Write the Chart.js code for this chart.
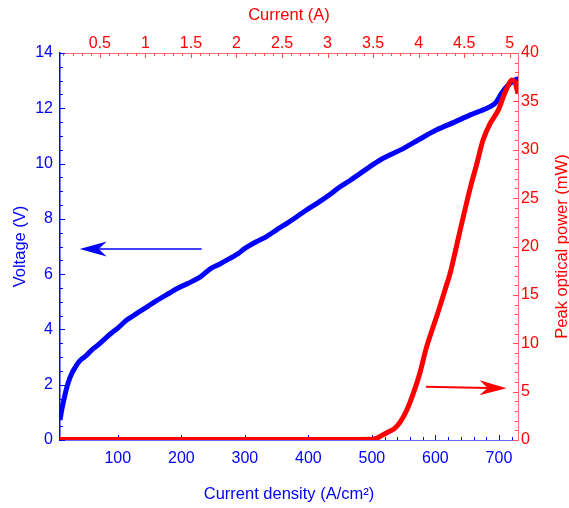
<!DOCTYPE html>
<html>
<head>
<meta charset="utf-8">
<script src="https://cdn.jsdelivr.net/npm/chart.js@4.4.1/dist/chart.umd.min.js"></script>
<style>
  html, body { margin: 0; padding: 0; background: #fff; }
  #wrap { width: 569px; height: 508px; }
</style>
</head>
<body>
<div id="wrap"><canvas id="ivChart" width="569" height="508"></canvas></div>
<script>
// current density range (A/cm^2) and device area factor for the top axis
const jMin = 9, jMax = 730;
const areaCm2 = 5 / 717;

// L-I-V sweep
const vDensity = [9, 12, 14, 18, 22, 27, 32, 40, 51, 60, 69, 80, 90, 100, 114, 130, 145, 158, 180, 195, 211, 230, 246, 260, 275, 290, 300, 318, 334, 350, 365, 380, 397, 420, 435, 450, 465, 480, 497, 513, 530, 550, 575, 602, 630, 655, 681, 694, 704, 712, 723, 731];
const voltage  = [0.72, 1.12, 1.33, 1.75, 2.08, 2.38, 2.59, 2.86, 3.07, 3.28, 3.44, 3.67, 3.87, 4.05, 4.34, 4.58, 4.8, 5.0, 5.3, 5.5, 5.67, 5.9, 6.2, 6.36, 6.55, 6.75, 6.93, 7.17, 7.36, 7.6, 7.82, 8.05, 8.32, 8.66, 8.9, 9.16, 9.38, 9.62, 9.89, 10.13, 10.33, 10.55, 10.88, 11.22, 11.5, 11.76, 12.0, 12.18, 12.54, 12.78, 13.0, 13.08];

const pDensity = [9, 100, 200, 300, 400, 500, 508, 515, 525, 535, 545, 555, 565, 575, 586, 597, 607, 615, 623, 631, 639, 649, 657, 665, 675, 686, 699, 707, 715, 720, 725, 730];
const power    = [0.05, 0.05, 0.05, 0.05, 0.05, 0.08, 0.2, 0.45, 0.8, 1.15, 1.9, 3.1, 4.8, 6.8, 9.6, 11.8, 13.8, 15.5, 17.2, 19.4, 21.7, 24.5, 26.6, 28.5, 31.0, 32.7, 34.1, 35.5, 36.7, 37.2, 37.0, 35.8];

// tick labels
const densityTicks = [100, 200, 300, 400, 500, 600, 700];
const currentTicks = [0.5, 1, 1.5, 2, 2.5, 3, 3.5, 4, 4.5, 5];
const voltageTicks = [0, 2, 4, 6, 8, 10, 12, 14];
const powerTicks   = [0, 5, 10, 15, 20, 25, 30, 35, 40];

// annotation arrows [x, y] in data units
const voltArrow  = { from: [232, 6.91], to: [40, 6.91] };
const powerArrow = { from: [585, 5.51], to: [712, 5.34] };

const BLUE = '#0000ff';
const RED = '#ff0000';
const FONT = 'Arial, "Liberation Sans", sans-serif';

const toXY = (xs, ys) => xs.map((x, i) => ({ x: x, y: ys[i] }));
const fixTicks = list => scale => { scale.ticks = list.map(v => ({ value: v })); };
const plain = v => String(v);

// small ticks drawn inward from each axis line
const inwardTicks = {
  id: 'inwardTicks',
  beforeDatasetsDraw(chart) {
    const { ctx, chartArea: a, scales } = chart;
    const sets = [
      { id: 'x',  side: 'bottom', major: 100, minor: 20,  color: BLUE },
      { id: 'x2', side: 'top',    major: 0.5, minor: 0.1, color: '#ff5050' },
      { id: 'y',  side: 'left',   major: 2,   minor: 0.5, color: BLUE },
      { id: 'y2', side: 'right',  major: 5,   minor: 1,   color: '#ff5050' }
    ];
    ctx.save();
    ctx.lineWidth = 1;
    sets.forEach(s => {
      const sc = scales[s.id];
      const n0 = Math.ceil(sc.min / s.minor - 1e-6), n1 = Math.floor(sc.max / s.minor + 1e-6);
      ctx.strokeStyle = s.color;
      for (let n = n0; n <= n1; n++) {
        const v = n * s.minor;
        const isMajor = Math.abs(v / s.major - Math.round(v / s.major)) < 1e-6;
        const len = isMajor ? 5 : 3;
        const p = Math.round(sc.getPixelForValue(v)) + 0.5;
        ctx.beginPath();
        if (s.side === 'bottom') { ctx.moveTo(p, a.bottom); ctx.lineTo(p, a.bottom - len); }
        if (s.side === 'top')    { ctx.moveTo(p, a.top);    ctx.lineTo(p, a.top + len); }
        if (s.side === 'left')   { ctx.moveTo(a.left, p);   ctx.lineTo(a.left + len, p); }
        if (s.side === 'right')  { ctx.moveTo(a.right, p);  ctx.lineTo(a.right - len, p); }
        ctx.stroke();
      }
    });
    ctx.restore();
  }
};

// arrows pointing to each curve's axis, plus the right-hand axis title
const annotations = {
  id: 'annotations',
  afterDatasetsDraw(chart) {
    const { ctx, chartArea: a, scales } = chart;
    function arrow(spec, ys, color, width) {
      const x0 = scales.x.getPixelForValue(spec.from[0]), y0 = scales[ys].getPixelForValue(spec.from[1]);
      const x1 = scales.x.getPixelForValue(spec.to[0]),   y1 = scales[ys].getPixelForValue(spec.to[1]);
      const ang = Math.atan2(y1 - y0, x1 - x0);
      const headLen = 27, half = 7.5, notch = 19;
      ctx.save();
      ctx.strokeStyle = color;
      ctx.fillStyle = color;
      ctx.lineWidth = width;
      ctx.beginPath();
      ctx.moveTo(x0, y0);
      ctx.lineTo(x1 - Math.cos(ang) * notch, y1 - Math.sin(ang) * notch);
      ctx.stroke();
      ctx.translate(x1, y1);
      ctx.rotate(ang);
      ctx.beginPath();
      ctx.moveTo(0, 0);
      ctx.lineTo(-headLen, -half);
      ctx.lineTo(-notch, 0);
      ctx.lineTo(-headLen, half);
      ctx.closePath();
      ctx.fill();
      ctx.restore();
    }
    arrow(voltArrow, 'y', BLUE, 1.6);
    arrow(powerArrow, 'y2', RED, 2);

    ctx.save();
    ctx.fillStyle = RED;
    ctx.font = '16.5px ' + FONT;
    ctx.textAlign = 'center';
    ctx.textBaseline = 'middle';
    ctx.translate(562, (a.top + a.bottom) / 2);
    ctx.rotate(-Math.PI / 2);
    ctx.fillText('Peak optical power (mW)', 0, 0);
    ctx.restore();
  }
};

Chart.defaults.font.family = FONT;
Chart.defaults.font.size = 16;
const titleFont = { size: 16.5 };

new Chart(document.getElementById('ivChart'), {
  type: 'line',
  data: {
    datasets: [
      {
        label: 'Peak optical power',
        data: toXY(pDensity, power),
        xAxisID: 'x', yAxisID: 'y2',
        borderColor: RED, borderWidth: 5,
        pointRadius: 0, tension: 0.3, order: 0
      },
      {
        label: 'Voltage',
        data: toXY(vDensity, voltage),
        xAxisID: 'x', yAxisID: 'y',
        borderColor: BLUE, borderWidth: 5,
        pointRadius: 0, tension: 0.3, order: 1
      }
    ]
  },
  options: {
    responsive: false,
    animation: false,
    events: [],
    layout: { padding: 0 },
    plugins: { legend: { display: false }, tooltip: { enabled: false } },
    scales: {
      x: {
        type: 'linear', position: 'bottom', min: jMin, max: jMax,
        afterBuildTicks: fixTicks(densityTicks),
        afterFit: s => { s.height = 68; },
        grid: { drawOnChartArea: false, drawTicks: false },
        border: { color: '#6a6aff', width: 1 },
        ticks: { color: BLUE, padding: 9, maxRotation: 0, autoSkip: false, callback: plain },
        title: { display: true, text: 'Current density (A/cm²)', color: BLUE, font: titleFont, padding: { top: 10 } }
      },
      x2: {
        type: 'linear', position: 'top', min: jMin * areaCm2, max: jMax * areaCm2,
        afterBuildTicks: fixTicks(currentTicks),
        afterFit: s => { s.height = 53; },
        grid: { drawOnChartArea: false, drawTicks: false },
        border: { color: '#ff6a6a', width: 1 },
        ticks: { color: RED, padding: 0, maxRotation: 0, autoSkip: false, callback: plain },
        title: { display: true, text: 'Current (A)', color: RED, font: titleFont, padding: { top: 6, bottom: 5 } }
      },
      y: {
        type: 'linear', position: 'left', min: 0, max: 14,
        afterBuildTicks: fixTicks(voltageTicks),
        afterFit: s => { s.width = 60; },
        grid: { drawOnChartArea: false, drawTicks: false },
        border: { color: BLUE, width: 1.5 },
        ticks: { color: BLUE, padding: 7, callback: plain },
        title: { display: true, text: 'Voltage (V)', color: BLUE, font: titleFont, padding: { top: 11, bottom: 0 } }
      },
      y2: {
        type: 'linear', position: 'right', min: 0, max: 40,
        afterBuildTicks: fixTicks(powerTicks),
        afterFit: s => { s.width = 51; },
        grid: { drawOnChartArea: false, drawTicks: false },
        border: { color: '#ff6a6a', width: 1 },
        ticks: { color: RED, padding: 3, callback: plain },
        title: { display: false }
      }
    }
  },
  plugins: [inwardTicks, annotations]
});
</script>
</body>
</html>
